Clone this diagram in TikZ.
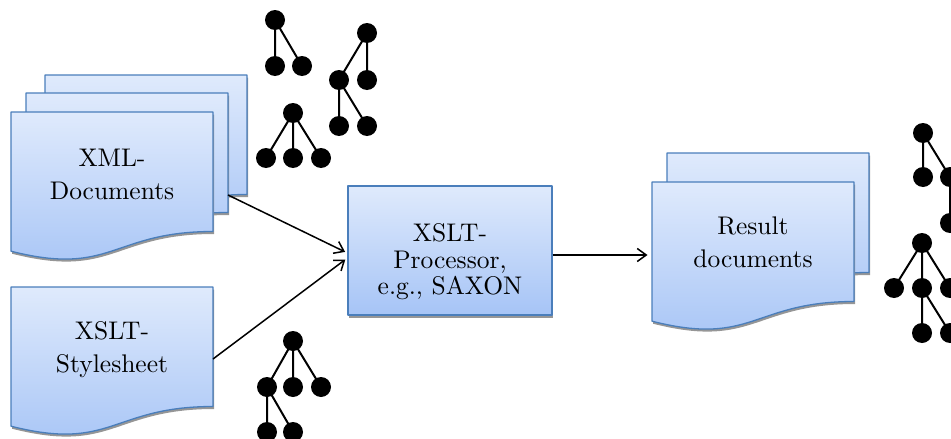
\documentclass[tikz,border=0pt]{standalone}
\usetikzlibrary{arrows.meta}

% Latin Modern Roman at its 10pt design size, scaled up for the labels
\font\labelfont="[lmroman10-regular.otf]" at 25.5pt

\definecolor{docedge}{RGB}{74,126,187}
\definecolor{doctop}{RGB}{223,234,252}
\definecolor{docbottom}{RGB}{166,196,246}
\definecolor{shadowgray}{RGB}{150,150,150}

\tikzset{
  docbody/.style={draw=docedge, line width=1.3pt, line join=round,
    top color=doctop, bottom color=docbottom},
  docshadow/.style={fill=shadowgray},
  % a document sheet with a wavy lower edge, 202 x 149, anchored at its top-left corner
  docsheet/.pic={
    \fill[docshadow] (1,2.5) -- (203,2.5) -- (203,122) .. controls (102,122) and (102,167.4) .. (1,141.7) -- cycle;
    \draw[docbody] (0,0) -- (202,0) -- (202,119.5) .. controls (101,119.5) and (101,164.9) .. (0,139.2) -- cycle;
  },
  doctext/.style={align=center, font={\fontsize{25.5}{33}\selectfont\labelfont}, inner sep=0pt},
  proctext/.style={align=center, font={\fontsize{25.5}{26.5}\selectfont\labelfont}, inner sep=0pt},
  procbox/.style={docbody, minimum width=204pt, minimum height=129pt, inner sep=0pt},
  flow/.style={line width=1.5pt, -{Straight Barb[length=9pt,width=13pt,line width=1.5pt]}},
  treenode/.style={circle, fill=black, minimum size=20pt, inner sep=0pt},
  treeedge/.style={line width=2pt},
}

\begin{document}
\begin{tikzpicture}[x=1pt, y=-1pt]
\useasboundingbox (0,0) rectangle (951,439);

% input documents (stack of three sheets)
\pic at (45,75) {docsheet};
\pic at (26,93) {docsheet};
\pic at (11,112) {docsheet};
\node[doctext] (xmltxt) at (112,174) {XML-\\Documents};

% stylesheet
\pic at (11,287) {docsheet};
\node[doctext] (xslttxt) at (112,350) {XSLT-\\Stylesheet};

% result documents (stack of two sheets)
\pic at (667,153) {docsheet};
\pic at (652,182) {docsheet};
\node[doctext] (restxt) at (753,242) {Result\\documents};

% processor
\fill[docshadow] (349,188) rectangle (553,317.5);
\node[procbox] (proc) at (450,250.5) {};
\node[proctext] (proctxt) at (450,262) {XSLT-\\Processor,\\e.g., SAXON};

% connector end points on the sheets
\coordinate (xmlout) at (228,195);
\coordinate (xsltout) at (213,359);
\coordinate (resin) at (652,255);

\draw[flow, shorten >=2.5pt] (xmlout) -- ([yshift=-2.5pt]proc.west);
\draw[flow, shorten >=2.5pt] (xsltout) -- ([yshift=-7.5pt]proc.west);
\draw[flow, shorten >=4.5pt] ([yshift=-4.5pt]proc.east) -- (resin);

% tree A
\node[treenode] (a0) at (275,20) {};
\node[treenode] (a1) at (275,66) {};
\node[treenode] (a2) at (302,66) {};
\draw[treeedge] (a0.center) -- (a1.center) (a0.center) -- (a2.center);

% tree B
\node[treenode] (b0) at (367,33) {};
\node[treenode] (b1) at (339,80) {};
\node[treenode] (b2) at (367,80) {};
\node[treenode] (b3) at (339,126) {};
\node[treenode] (b4) at (367,126) {};
\draw[treeedge] (b0.center) -- (b1.center) (b0.center) -- (b2.center)
  (b1.center) -- (b3.center) (b1.center) -- (b4.center);

% tree C
\node[treenode] (c0) at (293,113) {};
\node[treenode] (c1) at (266,158) {};
\node[treenode] (c2) at (293,158) {};
\node[treenode] (c3) at (321,158) {};
\draw[treeedge] (c0.center) -- (c1.center) (c0.center) -- (c2.center) (c0.center) -- (c3.center);

% tree D
\node[treenode] (d0) at (293,341) {};
\node[treenode] (d1) at (267,387) {};
\node[treenode] (d2) at (293,387) {};
\node[treenode] (d3) at (321,387) {};
\node[treenode] (d4) at (267,432) {};
\node[treenode] (d5) at (293,432) {};
\draw[treeedge] (d0.center) -- (d1.center) (d0.center) -- (d2.center) (d0.center) -- (d3.center)
  (d1.center) -- (d4.center) (d1.center) -- (d5.center);

% tree E
\node[treenode] (e0) at (923,133) {};
\node[treenode] (e1) at (923,177) {};
\node[treenode] (e2) at (950,177) {};
\node[treenode] (e3) at (950,223) {};
\draw[treeedge] (e0.center) -- (e1.center) (e0.center) -- (e2.center) (e2.center) -- (e3.center);

% tree F
\node[treenode] (f0) at (922,243) {};
\node[treenode] (f1) at (894,288) {};
\node[treenode] (f2) at (922,288) {};
\node[treenode] (f3) at (950,288) {};
\node[treenode] (f4) at (922,333) {};
\node[treenode] (f5) at (950,333) {};
\draw[treeedge] (f0.center) -- (f1.center) (f0.center) -- (f2.center) (f0.center) -- (f3.center)
  (f2.center) -- (f4.center) (f2.center) -- (f5.center);
\end{tikzpicture}
\end{document}
